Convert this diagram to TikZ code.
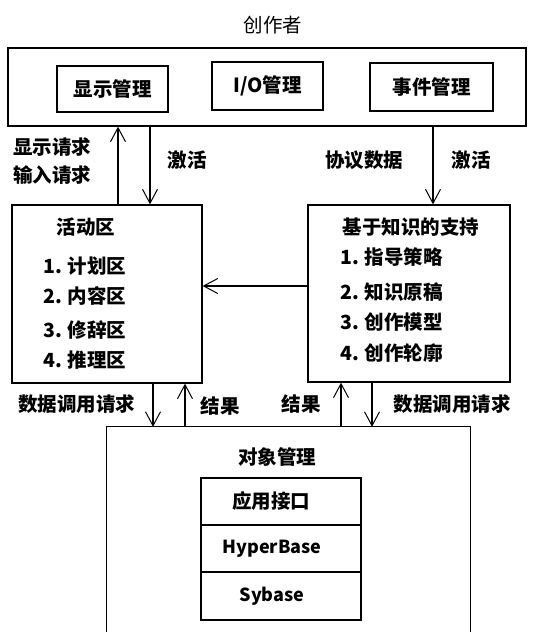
\documentclass[tikz,border=0pt]{standalone}
\usepackage{fontspec}
\setmainfont{Noto Sans CJK SC}
\usetikzlibrary{arrows.meta}
\begin{document}
\begin{tikzpicture}[x=1pt,y=-1pt,
  box/.style={draw,line width=1.3pt,inner sep=0pt},
  txt/.style={inner sep=0pt,font=\fontsize{19.5}{22}\selectfont\bfseries},
  lat/.style={inner sep=0pt,font=\fontsize{18}{21}\selectfont\bfseries},
  item/.style={txt,anchor=west},
  arr/.style={line width=1.2pt,-{Straight Barb[length=14pt,width=15pt,line width=1pt]}}]
\useasboundingbox (0,0) rectangle (534,632);
% title
\node[txt,font=\fontsize{19.5}{22}\selectfont] (author) at (273,25) {创作者};
% top box
\node[box,minimum width=518pt,minimum height=78pt] (top) at (267,87) {};
\node[box,minimum width=111pt,minimum height=46pt] (disp) at (112.5,89) {};
\node[txt] at (disp) {显示管理};
\node[box,minimum width=111pt,minimum height=48pt] (io) at (267.5,86) {};
\node[txt] at (io) {I/O管理};
\node[box,minimum width=123pt,minimum height=48pt] (evt) at (431.5,87) {};
\node[txt] at (evt) {事件管理};
% activity box
\node[box,minimum width=190pt,minimum height=178pt] (act) at (107,294) {};
\node[txt] (acttitle) at (86,227) {活动区};
\node[item] (a1) at (43,266) {1. 计划区};
\node[item] (a2) at (43,296) {2. 内容区};
\node[item] (a3) at (43,330) {3. 修辞区};
\node[item] (a4) at (43,360) {4. 推理区};
% knowledge box
\node[box,minimum width=202pt,minimum height=177pt] (kn) at (409,293.5) {};
\node[txt] (kntitle) at (411,227) {基于知识的支持};
\node[item] (k1) at (340,257) {1. 指导策略};
\node[item] (k2) at (340,292) {2. 知识原稿};
\node[item] (k3) at (340,322) {3. 创作模型};
\node[item] (k4) at (340,353) {4. 创作轮廓};
% object management
\node[minimum width=363pt,minimum height=205pt,inner sep=0pt] (obj) at (288.5,529.5) {};
\draw[line width=1.3pt] (obj.south west) -- (obj.north west) -- (obj.north east) -- (obj.south east);
\node[txt] (objtitle) at (277,457) {对象管理};
\node[box,minimum width=160pt,minimum height=47pt] (api) at (281,501.5) {};
\node[txt] at ([xshift=-10pt]api.center) {应用接口};
\node[box,minimum width=160pt,minimum height=47pt] (hyper) at (281,548.5) {};
\node[lat] at ([xshift=-9pt]hyper.center) {HyperBase};
\node[box,minimum width=160pt,minimum height=48pt] (syb) at (281,596) {};
\node[lat] at ([xshift=-9pt]syb.center) {Sybase};
% x positions of connectors
\coordinate (xa) at (118,0);
\coordinate (xb) at (150,0);
\coordinate (xc) at (433,0);
\coordinate (yh) at (0,286);
\coordinate (xd) at (153,0);
\coordinate (xe) at (185,0);
\coordinate (xf) at (341,0);
\coordinate (xg) at (372,0);
% connectors top
\draw[arr] (act.north -| xa) -- (top.south -| xa);
\draw[arr] (top.south -| xb) -- (act.north -| xb);
\draw[arr] (top.south -| xc) -- (kn.north -| xc);
\draw[arr] (kn.west |- yh) -- (act.east |- yh);
% connectors bottom
\draw[arr] (act.south -| xd) -- (obj.north -| xd);
\draw[arr] (obj.north -| xe) -- (act.south -| xe);
\draw[arr] (obj.north -| xf) -- (kn.south -| xf);
\draw[arr] (kn.south -| xg) -- (obj.north -| xg);
% labels
\node[txt,anchor=west] (l1) at (13,147) {显示请求};
\node[txt,anchor=west] (l2) at (13,175) {输入请求};
\node[txt] (l3) at (187,160) {激活};
\node[txt] (l4) at (364,160) {协议数据};
\node[txt] (l5) at (471,160) {激活};
\node[txt] (l6) at (77,404) {数据调用请求};
\node[txt] (l7) at (220,406) {结果};
\node[txt] (l8) at (301,404) {结果};
\node[txt] (l9) at (452,404) {数据调用请求};
\end{tikzpicture}
\end{document}
